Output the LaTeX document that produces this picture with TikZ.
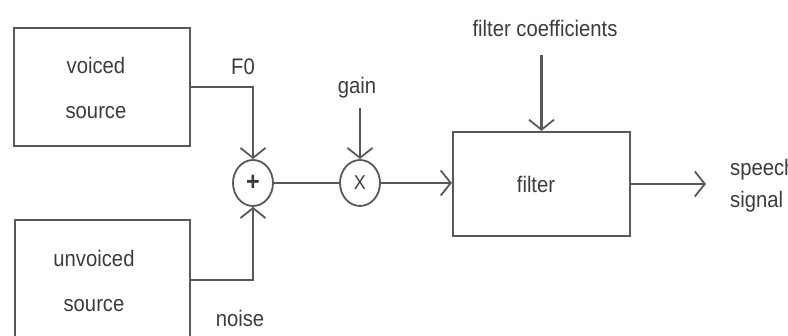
\documentclass[tikz,border=0pt]{standalone}
\usepackage{fontspec}
\newfontfamily\labfont{Liberation Sans}[FakeStretch=0.9]
\usetikzlibrary{arrows.meta,shapes.geometric}
\definecolor{linec}{HTML}{585858}
\definecolor{textc}{HTML}{3C3C3C}
\begin{document}
\begin{tikzpicture}[x=1pt,y=-1pt,
  lab/.style={font=\labfont\fontsize{22.5}{45}\selectfont, text=textc, inner sep=0pt, align=center},
  blockbox/.style={draw=linec, line width=2.2pt, inner sep=0pt},
  summer/.style={draw=linec, line width=1.8pt, ellipse, minimum width=40pt, minimum height=46pt, inner sep=0pt},
  conn/.style={draw=linec, line width=2.2pt},
  arr/.style={conn, -{Straight Barb[length=10pt,width=25pt,line width=1.8pt]}}]
\clip (0,0) rectangle (788,336);
\useasboundingbox (0,0) rectangle (788,336);
% blocks
\node[blockbox, minimum width=176pt, minimum height=118pt] (voiced) at (102,87) {};
\node[lab] (voicedtxt) at (96,88) {voiced\\source};
\node[blockbox, minimum width=175pt, minimum height=120pt] (unvoiced) at (102.5,280) {};
\node[lab] (unvoicedtxt) at (94,281) {unvoiced\\source};
\node[summer] (plus) at (253,183) {\labfont\fontsize{26}{24}\selectfont\textcolor{textc}{\textbf{+}}};
\node[summer] (times) at (360,183) {\labfont\fontsize{20}{24}\selectfont\textcolor{textc}{X}};
\node[blockbox, minimum width=177pt, minimum height=104pt] (filter) at (541.5,184) {};
\node[lab] (filtertxt) at (536,184) {filter};
% labels
\node[lab] (f0) at (243,67) {F0};
\node[lab] (noise) at (240,318) {noise};
\node[lab] (gain) at (357,88) {gain};
\node[lab] (coef) at (545,28) {filter coefficients};
\node[lab, anchor=west] (speech) at (730,170) {speech};
\node[lab, anchor=west] (signal) at (730,202) {signal};
% free ends
\coordinate (gainstart) at (360,108);
\coordinate (coefstart) at (541.5,55);
\coordinate (outend) at (706,184);
% connectors
\draw[arr] (voiced.east) -| (plus.north);
\draw[arr] (unvoiced.east) -| (plus.south);
\draw[conn] (plus.east) -- (times.west);
\draw[arr] (gainstart) -- (times.north);
\draw[arr] (times.east) -- (times.east -| filter.west);
\draw[arr] (coefstart) -- (filter.north);
\draw[arr] (filter.east) -- (outend);
\end{tikzpicture}
\end{document}
